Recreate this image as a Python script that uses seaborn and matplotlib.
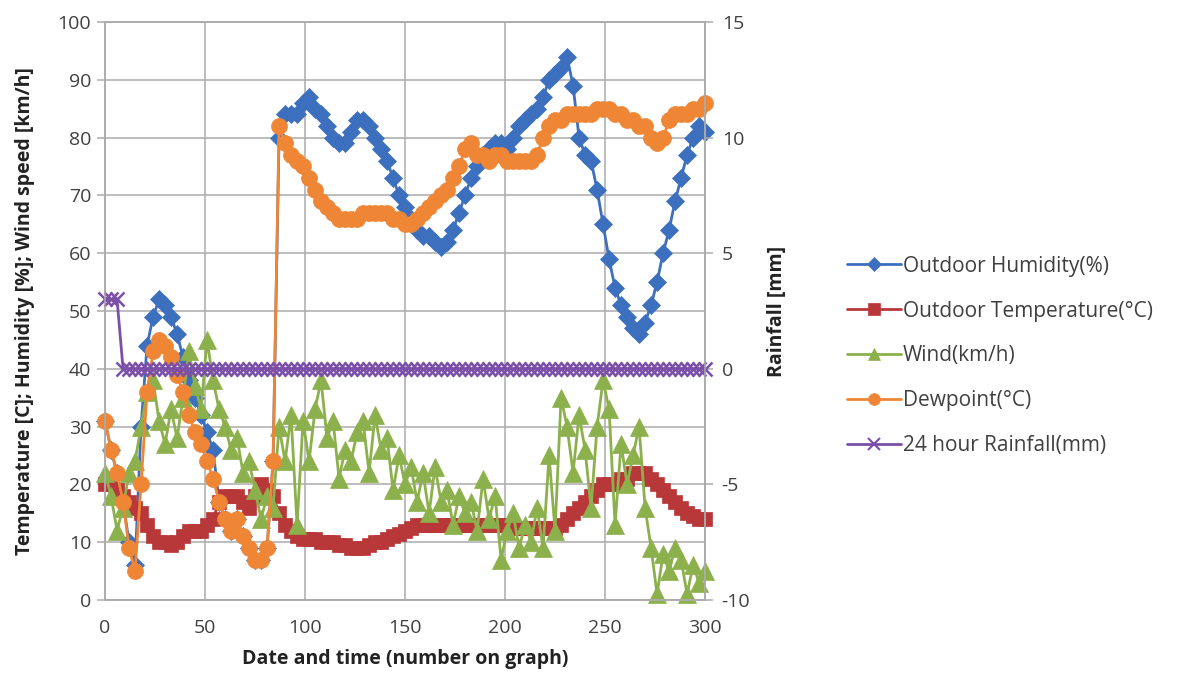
import matplotlib.pyplot as plt
import pandas as pd
import seaborn as sns
from matplotlib.lines import Line2D

# sample number on graph (every third reading)
sample = list(range(0, 301, 3))

humidity = [31, 26, 22, 17, 10, 6, 30, 44, 49, 52,
            51, 49, 46, 42, 38, 35, 32, 29, 26, 17,
            14, 12, 14, 11, 9, 7, 7, 9, 24, 80,
            84, 84, 84, 86, 87, 85, 84, 82, 80, 79,
            79, 81, 83, 83, 82, 80, 78, 76, 73, 70,
            68, 66, 64, 63, 63, 62, 61, 62, 64, 67,
            70, 73, 75, 77, 78, 79, 79, 78, 80, 82,
            83, 84, 85, 87, 90, 91, 92, 94, 89, 80,
            77, 76, 71, 65, 59, 54, 51, 49, 47, 46,
            48, 51, 55, 60, 64, 69, 73, 77, 80, 82,
            81]

temperature = [20, 20, 19, 18, 17, 16, 15, 13, 11, 10,
               10, 9.5, 10, 11, 12, 12, 12, 13, 14, 17,
               18, 18, 18, 17, 16, 18, 20, 19, 18, 15,
               13, 12, 11, 10.5, 10.5, 10.5, 10, 10, 10, 9.5,
               9.5, 9, 9, 9, 9.5, 10, 10, 10.5, 11, 11.5,
               12, 12.5, 13, 13, 13, 13, 13, 13, 13, 13,
               13, 13, 13, 13, 13, 13, 13, 13, 12.5, 12.5,
               12.5, 12.5, 12.5, 12.5, 12.5, 12.5, 13, 14, 15, 16,
               17, 18, 19, 20, 20, 20, 21, 21, 22, 22,
               22, 21, 20, 19, 18, 17, 16, 15, 14.5, 14,
               14]

wind = [22, 18, 12, 16, 22, 24, 30, 36, 38, 31,
        27, 33, 28, 35, 43, 37, 33, 45, 38, 33,
        30, 26, 28, 22, 24, 19, 14, 18, 16, 30,
        24, 32, 13, 31, 24, 33, 38, 28, 31, 21,
        26, 24, 29, 31, 22, 32, 26, 28, 19, 25,
        20, 23, 17, 22, 15, 23, 17, 19, 13, 18,
        15, 17, 12, 21, 14, 18, 7, 12, 15, 9,
        13, 10, 16, 9, 25, 12, 35, 30, 22, 32,
        26, 16, 30, 38, 33, 13, 27, 20, 25, 30,
        16, 9, 1, 8, 5, 9, 7, 1, 6, 3,
        5]

dewpoint = [31, 26, 22, 17, 9, 5, 20, 36, 43, 45,
            44, 42, 39, 36, 32, 29, 27, 24, 21, 17,
            14, 12, 14, 11, 9, 7, 7, 9, 24, 82,
            79, 77, 76, 75, 73, 71, 69, 68, 67, 66,
            66, 66, 66, 67, 67, 67, 67, 67, 66, 66,
            65, 65, 66, 67, 68, 69, 70, 71, 73, 75,
            78, 79, 77, 77, 76, 77, 77, 76, 76, 76,
            76, 76, 77, 80, 82, 83, 83, 84, 84, 84,
            84, 84, 85, 85, 85, 84, 84, 83, 83, 82,
            82, 80, 79, 80, 83, 84, 84, 84, 85, 85,
            86]

rainfall = [3, 3, 3, 0, 0, 0, 0, 0, 0, 0,
            0, 0, 0, 0, 0, 0, 0, 0, 0, 0,
            0, 0, 0, 0, 0, 0, 0, 0, 0, 0,
            0, 0, 0, 0, 0, 0, 0, 0, 0, 0,
            0, 0, 0, 0, 0, 0, 0, 0, 0, 0,
            0, 0, 0, 0, 0, 0, 0, 0, 0, 0,
            0, 0, 0, 0, 0, 0, 0, 0, 0, 0,
            0, 0, 0, 0, 0, 0, 0, 0, 0, 0,
            0, 0, 0, 0, 0, 0, 0, 0, 0, 0,
            0, 0, 0, 0, 0, 0, 0, 0, 0, 0,
            0]

df = pd.DataFrame({
    "sample": sample,
    "Outdoor Humidity(%)": humidity,
    "Outdoor Temperature(°C)": temperature,
    "Wind(km/h)": wind,
    "Dewpoint(°C)": dewpoint,
    "24 hour Rainfall(mm)": rainfall,
})

# colour, marker, size on plot, size in legend
styles = {
    "Outdoor Humidity(%)": ("#3D6FBF", "D", 9, 7),
    "Outdoor Temperature(°C)": ("#B8383A", "s", 9.5, 8),
    "Wind(km/h)": ("#8CB04C", "^", 12.5, 8.5),
    "Dewpoint(°C)": ("#EE8636", "o", 11.5, 8.5),
}
rain_style = ("#7B4FA8", "x", 10, 8)

sns.set_theme(style="white")
plt.rcParams["font.family"] = ["Open Sans", "DejaVu Sans"]
plt.rcParams["axes.unicode_minus"] = False
grid_c = "#ABABAB"
text_c = "#404040"

fig = plt.figure(figsize=(11.83, 6.98), dpi=100)
ax = fig.add_axes([0.0888, 0.1404, 0.5072, 0.8281])
ax.set_axisbelow(True)

for name, (color, marker, size, _) in styles.items():
    sns.lineplot(data=df, x="sample", y=name, ax=ax, color=color, marker=marker,
                 markersize=size, markeredgecolor=color, markeredgewidth=0.5,
                 linewidth=2, clip_on=False)

ax2 = ax.twinx()
sns.lineplot(data=df, x="sample", y="24 hour Rainfall(mm)", ax=ax2, color=rain_style[0],
             marker="x", markersize=rain_style[2], markeredgewidth=1.8,
             markeredgecolor=rain_style[0], linewidth=2, clip_on=False)

ax.set_xlim(0, 300)
ax.set_ylim(0, 100)
ax2.set_ylim(-10, 15)
ax.set_xticks(range(0, 301, 50))
ax.set_yticks(range(0, 101, 10))
ax2.set_yticks(range(-10, 16, 5))
ax.grid(True, color=grid_c, linewidth=1.1)

for a in (ax, ax2):
    for sp in a.spines.values():
        sp.set_color(grid_c)
        sp.set_linewidth(1.1)
    a.tick_params(direction="out", length=6, width=1.1, color=grid_c,
                  labelsize=14, labelcolor=text_c)
ax.tick_params(axis="both", pad=4)
ax.tick_params(axis="x", pad=8)
ax2.tick_params(axis="y", pad=6)

ax.set_xlabel("Date and time (number on graph)", fontsize=14, fontweight="bold",
              color="#222222", labelpad=8)
ax.set_ylabel("Temperature [C]; Humidity [%]; Wind speed [km/h]", fontsize=14,
              fontweight="bold", color="#222222", labelpad=16)
ax2.set_ylabel("Rainfall [mm]", fontsize=14, fontweight="bold", color="#222222",
               labelpad=12)

handles, labels = [], []
for name, (color, marker, _, lsize) in list(styles.items()) + [("24 hour Rainfall(mm)", rain_style)]:
    handles.append(Line2D([], [], color=color, marker=marker, markersize=lsize,
                          markeredgecolor=color, markeredgewidth=1.5 if marker == "x" else 0.5,
                          linewidth=2))
    labels.append(name)
fig.legend(handles, labels, loc="center left", bbox_to_anchor=(0.700, 0.49),
           frameon=False, fontsize=15, handlelength=2.6, handletextpad=0.1,
           labelspacing=1.15, labelcolor=text_c)

fig.savefig("out.png", dpi=100, facecolor="white")
